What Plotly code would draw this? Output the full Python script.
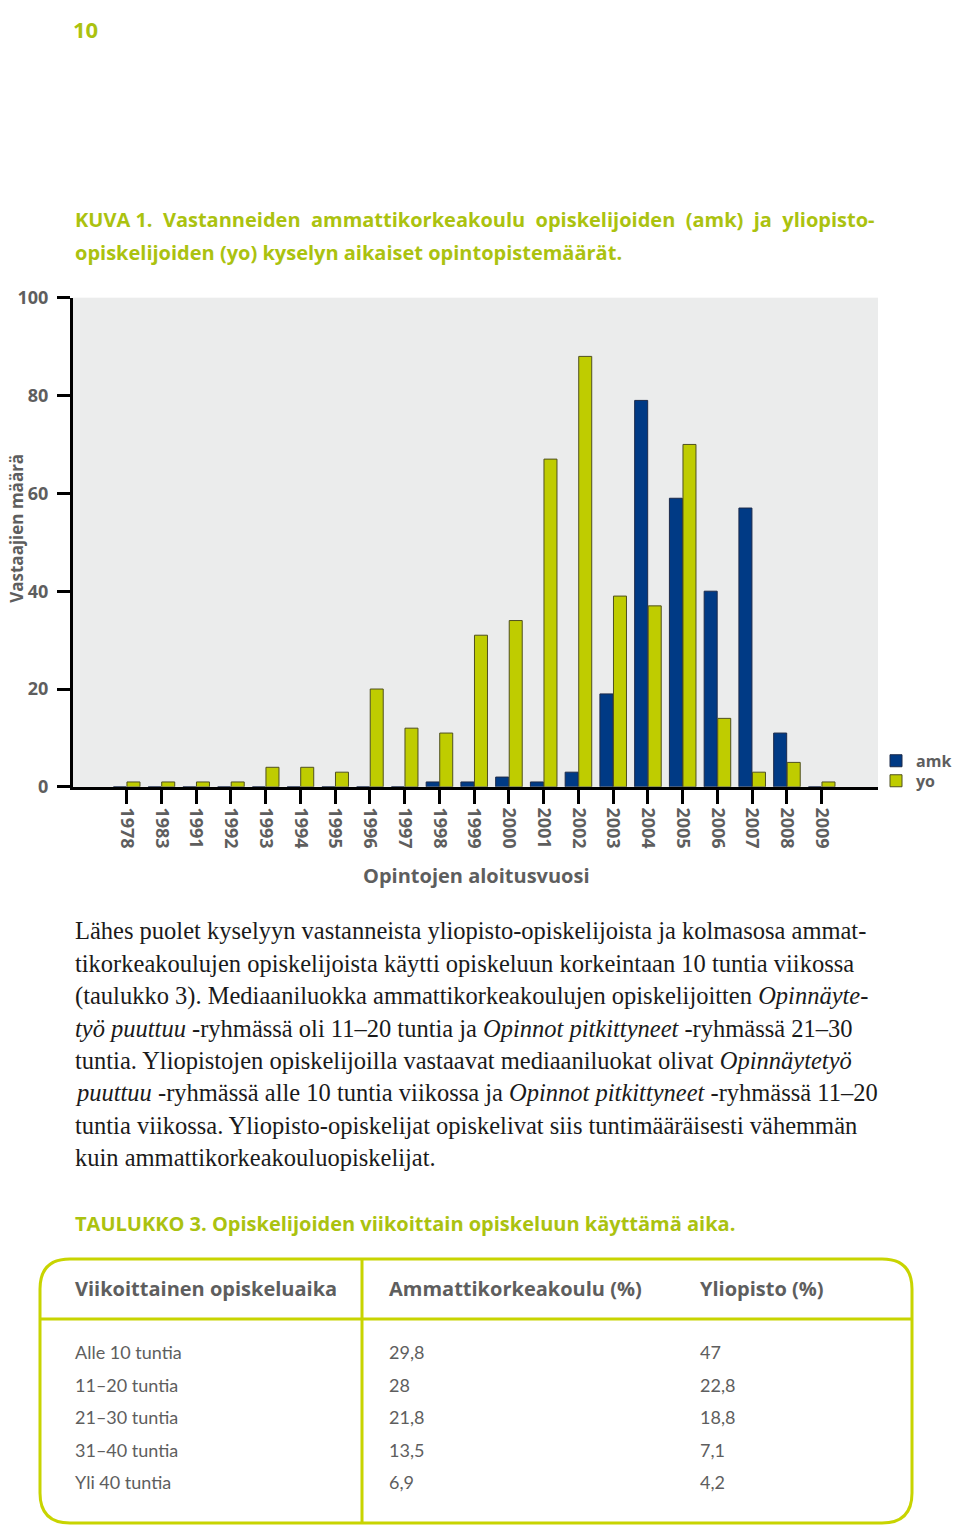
import plotly.graph_objects as go

# --- data ---
vuodet = ["1978", "1983", "1991", "1992", "1993", "1994", "1995", "1996", "1997", "1998",
          "1999", "2000", "2001", "2002", "2003", "2004", "2005", "2006", "2007", "2008", "2009"]
amk = [0, 0, 0, 0, 0, 0, 0, 0, 0, 1, 1, 2, 1, 3, 19, 79, 59, 40, 57, 11, 0]
yo = [1, 1, 1, 1, 4, 4, 3, 20, 12, 11, 31, 34, 67, 88, 39, 37, 70, 14, 3, 5, 1]

y_ticks = [0, 20, 40, 60, 80, 100]

taulukko_otsikot = ["Viikoittainen opiskeluaika", "Ammattikorkeakoulu (%)", "Yliopisto (%)"]
aika = ["Alle 10 tuntia", "11–20 tuntia", "21–30 tuntia", "31–40 tuntia", "Yli 40 tuntia"]
amk_pct = ["29,8", "28", "21,8", "13,5", "6,9"]
yo_pct = ["47", "22,8", "18,8", "7,1", "4,2"]

teksti_rivit = [
    "Lähes puolet kyselyyn vastanneista yliopisto-opiskelijoista ja kolmasosa ammat-",
    "tikorkeakoulujen opiskelijoista käytti opiskeluun korkeintaan 10 tuntia viikossa",
    "(taulukko 3). Mediaaniluokka ammattikorkeakoulujen opiskelijoitten <i>Opinnäyte-</i>",
    "<i>työ puuttuu</i> -ryhmässä oli 11–20 tuntia ja <i>Opinnot pitkittyneet</i> -ryhmässä 21–30",
    "tuntia. Yliopistojen opiskelijoilla vastaavat mediaaniluokat olivat <i>Opinnäytetyö</i>",
    "<i>puuttuu</i> -ryhmässä alle 10 tuntia viikossa ja <i>Opinnot pitkittyneet</i> -ryhmässä 11–20",
    "tuntia viikossa. Yliopisto-opiskelijat opiskelivat siis tuntimääräisesti vähemmän",
    "kuin ammattikorkeakouluopiskelijat.",
]

# --- styles ---
# positions below are given in pixels of the final picture; the figure lands a bit
# offset on the page, so px/py convert back to figure coordinates
W, H = 960, 1532
X0, SX = 8.0, 1.0
Y0, SY = 20.4, 0.984
SININEN = "#003a85"
KELTA = "#bfcc00"
VIHREA = "#abc20f"
HARMAA = "#5e5e5e"
SANS = "Lato"
OTSIKKO = "Open Sans"


def px(x):
    return (x - X0) / SX / W


def py(y):
    return 1 - (y - Y0) / SY / H


fig = go.Figure()
fig.add_trace(go.Bar(x=vuodet, y=amk, name="amk", legend="legend",
                     marker=dict(color=SININEN, line=dict(color="#1c2a4a", width=1))))
fig.add_trace(go.Bar(x=vuodet, y=yo, name="yo", legend="legend2",
                     marker=dict(color=KELTA, line=dict(color="#4f5020", width=1))))

legend_tyyli = dict(x=px(876), xanchor="left", yanchor="top",
                    font=dict(family=OTSIKKO, size=16, color=HARMAA, weight="bold"),
                    bgcolor="rgba(0,0,0,0)", itemwidth=30)

fig.update_layout(
    width=W, height=H,
    margin=dict(l=0, r=0, t=0, b=0),
    paper_bgcolor="white",
    plot_bgcolor="#ebecec",
    barmode="group",
    bargap=0.22,
    bargroupgap=0.04,
    showlegend=True,
    legend=dict(legend_tyyli, y=py(743)),
    legend2=dict(legend_tyyli, y=py(763)),
    xaxis=dict(domain=[px(73), px(878)], range=[-1.545, 21.62], type="category",
               showline=True, linecolor="black", linewidth=3,
               ticks="outside", ticklen=14, tickwidth=3, tickcolor="black",
               tickangle=90, showgrid=False,
               tickfont=dict(family=OTSIKKO, size=18, color=HARMAA, weight="bold")),
    yaxis=dict(domain=[py(786), py(297)], range=[0, 100], tickvals=y_ticks,
               showline=True, linecolor="black", linewidth=3,
               ticks="outside", ticklen=13, tickwidth=3, tickcolor="black",
               showgrid=False, zeroline=False, ticklabelstandoff=5,
               tickfont=dict(family=OTSIKKO, size=18, color=HARMAA, weight="bold")),
)

annot = []


def teksti(x, y, t, size, color, family=SANS, weight="normal", anchor="left", angle=0):
    annot.append(dict(x=px(x), y=py(y), xref="paper", yref="paper", text=t, showarrow=False,
                      xanchor=anchor, yanchor="middle", textangle=angle,
                      font=dict(family=family, size=size, color=color, weight=weight)))


# page number and caption
teksti(71, 28, "10", 22, VIHREA, family=OTSIKKO, weight="bold")
teksti(73, 219, "KUVA 1.  Vastanneiden  ammattikorkeakoulu  opiskelijoiden  (amk)  ja  yliopisto-",
       20, VIHREA, family=OTSIKKO, weight="bold")
teksti(73, 252, "opiskelijoiden (yo) kyselyn aikaiset opintopistemäärät.", 20, VIHREA,
       family=OTSIKKO, weight="bold")

# axis titles
teksti(17, 528, "Vastaajien määrä", 17, HARMAA, family=OTSIKKO, weight="bold", anchor="center", angle=-90)
teksti(476, 875, "Opintojen aloitusvuosi", 20, HARMAA, family=OTSIKKO, weight="bold", anchor="center")

# body text
for i, rivi in enumerate(teksti_rivit):
    teksti(73, 930 + i * 32.4, rivi, 24.5, "#1a1a1a", family="Liberation Serif")

# table
teksti(73, 1222, "TAULUKKO 3. Opiskelijoiden viikoittain opiskeluun käyttämä aika.", 20, VIHREA,
       family=OTSIKKO, weight="bold")
sarakkeet = [73, 387, 698]
for x, otsikko in zip(sarakkeet, taulukko_otsikot):
    teksti(x, 1287, otsikko, 20, HARMAA, family=OTSIKKO, weight="bold")
for i, (a, b, c) in enumerate(zip(aika, amk_pct, yo_pct)):
    yy = 1351 + i * 32.5
    for x, t in zip(sarakkeet, (a, b, c)):
        teksti(x, yy, t, 18, HARMAA)

fig.update_layout(annotations=annot)

# rounded frame of the table
x0, x1, y0, y1 = px(40), px(912), py(1258), py(1522)
rx, ry = 30 / SX / W, 30 / SY / H
polku = (f"M {x0 + rx},{y0} L {x1 - rx},{y0} Q {x1},{y0} {x1},{y0 - ry} "
         f"L {x1},{y1 + ry} Q {x1},{y1} {x1 - rx},{y1} L {x0 + rx},{y1} "
         f"Q {x0},{y1} {x0},{y1 + ry} L {x0},{y0 - ry} Q {x0},{y0} {x0 + rx},{y0} Z")
fig.add_shape(type="path", path=polku, xref="paper", yref="paper", line=dict(color="#c8d400", width=3))
fig.add_shape(type="line", x0=x0, x1=x1, y0=py(1318), y1=py(1318), xref="paper", yref="paper",
              line=dict(color="#c8d400", width=3))
fig.add_shape(type="line", x0=px(362), x1=px(362), y0=y0, y1=y1, xref="paper", yref="paper",
              line=dict(color="#c8d400", width=3))

fig.write_html("out.html")
